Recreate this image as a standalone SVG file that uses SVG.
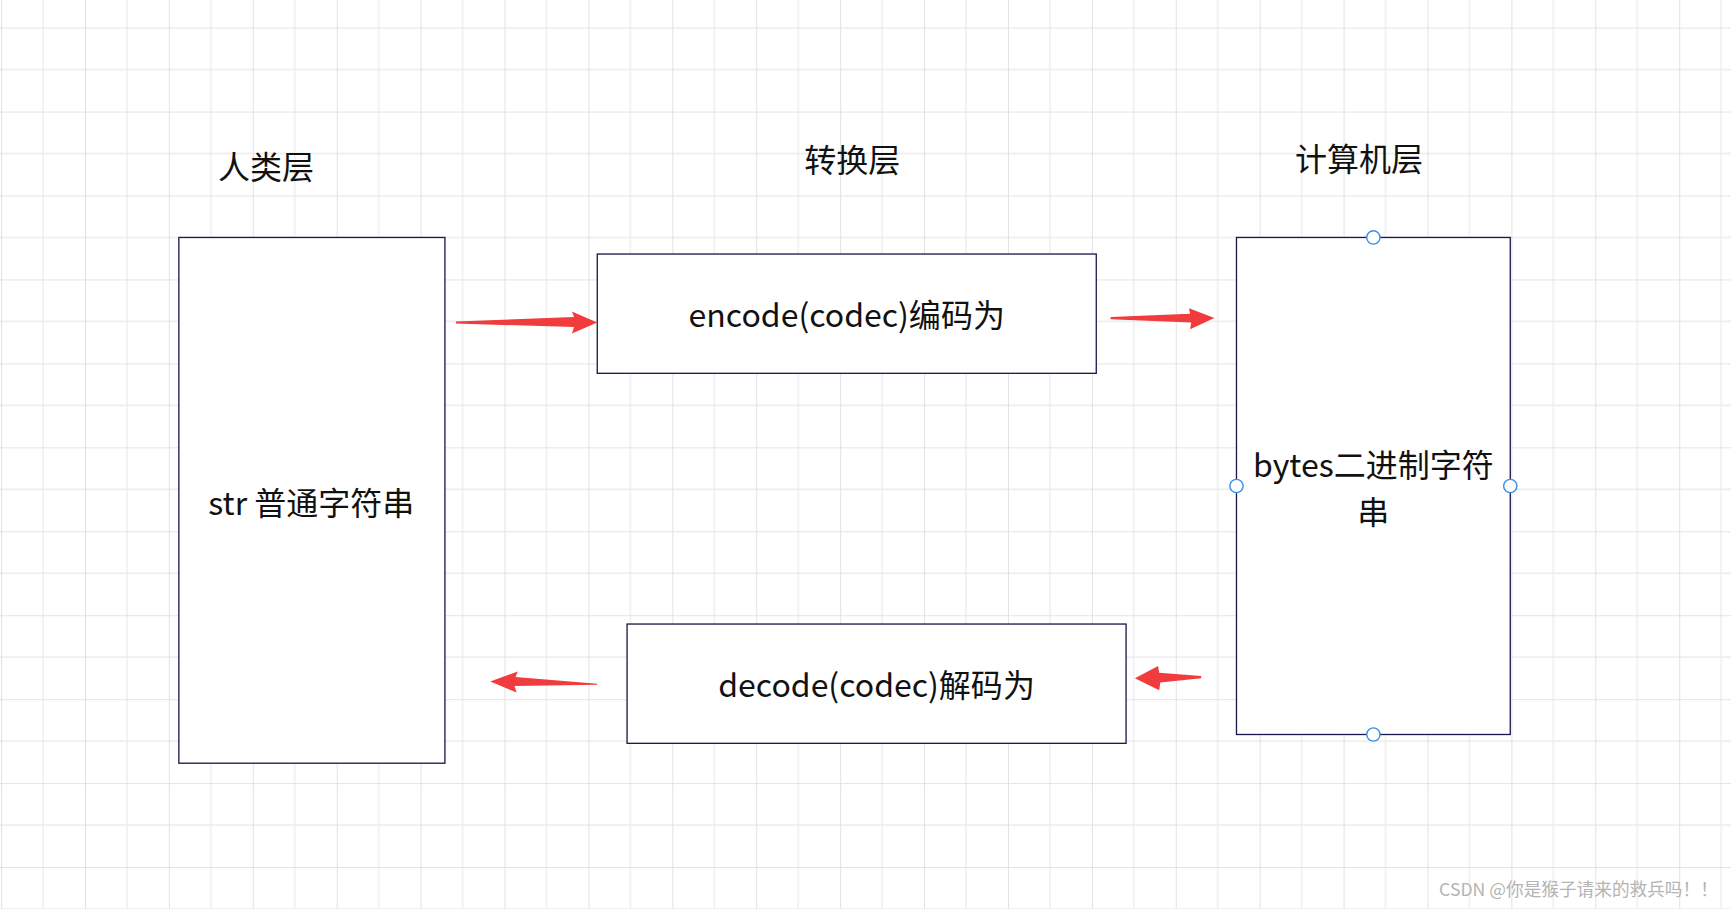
<svg xmlns="http://www.w3.org/2000/svg" width="1731" height="909" viewBox="0 0 1731 909">
<defs>
<pattern id="g" width="76" height="76" patternUnits="userSpaceOnUse" x="1" y="25">
<path d="M38 0V76M0 38H76" stroke="#ececec" stroke-width="1.2" fill="none"/>
<path d="M0 0V76M0 0H76" stroke="#dcdcdc" stroke-width="1.5" fill="none"/>
</pattern>
<style>
.b{fill:#fff;stroke:#1a1a4a;stroke-width:1.2}
.t{font-family:"Noto Sans CJK SC","Noto Sans",sans-serif;font-size:29px;fill:#111;text-anchor:middle}
.a{fill:#f03c3c}
.c{fill:#fff;stroke:#3d8fe8;stroke-width:1.3}
</style>
</defs>
<g transform="scale(1.104,1.1045)">
<rect width="1568" height="823" fill="#fff"/>
<rect width="1568" height="823" fill="url(#g)"/>
<g id="labels">
<text class="t" x="241" y="162">人类层</text>
<text class="t" x="772" y="156">转换层</text>
<text class="t" x="1231" y="155">计算机层</text>
</g>
<g id="human"><rect class="b" x="162" y="215" width="241" height="476"/><text class="t" x="282" y="466">str 普通字符串</text></g>
<g id="encode"><rect class="b" x="541" y="230" width="452" height="108"/><text class="t" x="767" y="296">encode(codec)编码为</text></g>
<g id="decode"><rect class="b" x="568" y="565" width="452" height="108"/><text class="t" x="794" y="631">decode(codec)解码为</text></g>
<g id="computer"><rect class="b" x="1120" y="215" width="248" height="450"/><text class="t" x="1244" y="432">bytes二进制字符</text><text class="t" x="1244" y="474">串</text>
<circle class="c" cx="1244" cy="215" r="6"/><circle class="c" cx="1120" cy="440" r="6"/><circle class="c" cx="1368" cy="440" r="6"/><circle class="c" cx="1244" cy="665" r="6"/></g>
<g id="connectors">
<polygon class="a" points="413,291 520,287 518,282 541,292 518,302 520,296 413,293"/>
<polygon class="a" points="1006,287 1078,284 1077,279 1100,288 1078,298 1079,292 1006,289"/>
<polygon class="a" points="541,619 467,613 469,608 444,617 468,627 466,621 541,620"/>
<polygon class="a" points="1088,612 1050,609 1049,603 1028,614 1050,625 1051,618 1088,614"/>
</g>
<text x="1556" y="811" style="font-family:'Noto Sans CJK SC',sans-serif;font-size:16px;fill:#b4b4b4;text-anchor:end">CSDN @你是猴子请来的救兵吗！！</text>
</g>
</svg>
